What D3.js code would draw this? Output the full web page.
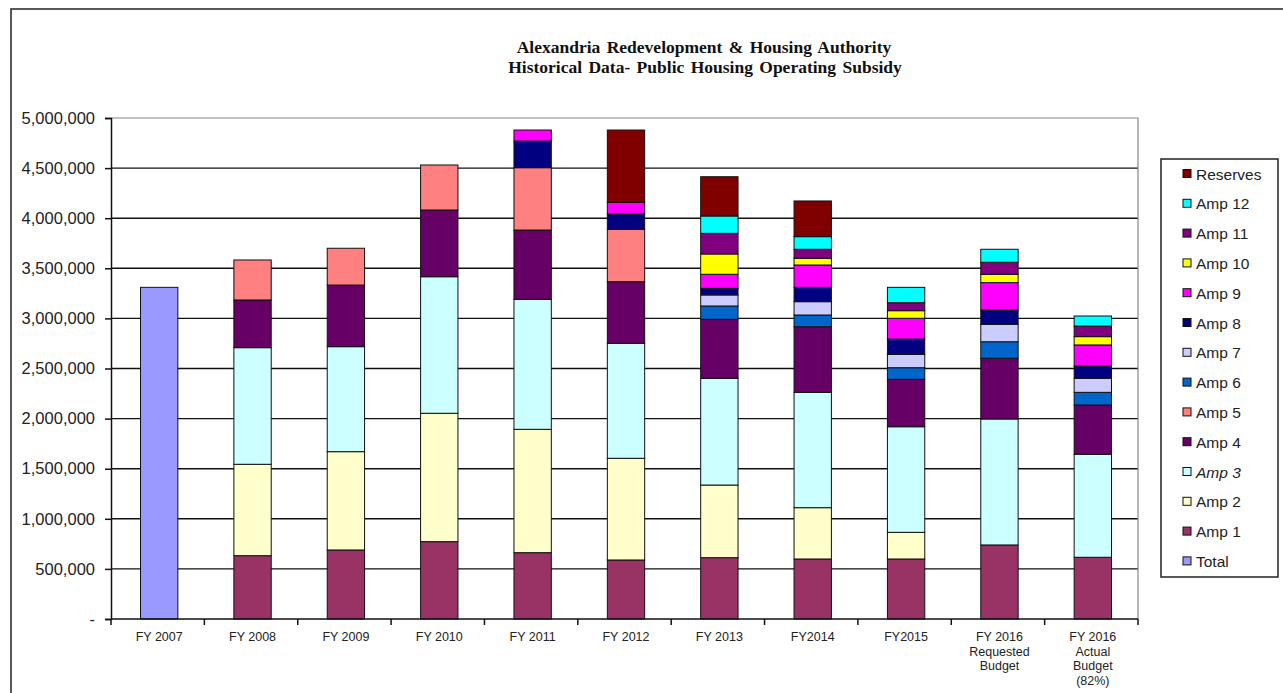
<!DOCTYPE html>
<html>
<head>
<meta charset="utf-8">
<script src="https://cdn.jsdelivr.net/npm/d3@7"></script>
<style>
  body { margin: 0; background: #fff; }
  svg { display: block; font-family: "Liberation Sans", Arial, sans-serif; }
</style>
</head>
<body>
<svg id="chart" width="1283" height="693"></svg>
<script>
// categories (x axis)
const categories = ["FY 2007","FY 2008","FY 2009","FY 2010","FY 2011","FY 2012","FY 2013","FY2014","FY2015","FY 2016 Requested","FY 2016 Actual"];
const categoryLines = [["FY 2007"],["FY 2008"],["FY 2009"],["FY 2010"],["FY 2011"],["FY 2012"],["FY 2013"],["FY2014"],["FY2015"],["FY 2016","Requested","Budget"],["FY 2016","Actual","Budget","(82%)"]];

// series, bottom of the stack first
const total    = [3310000,0,0,0,0,0,0,0,0,0,0];
const amp1     = [0,632000,689000,772000,662000,589000,612000,599000,599000,739000,616000];
const amp2     = [0,912000,981000,1281000,1231000,1015000,725000,512000,266000,0,0];
const amp3     = [0,1164000,1048000,1363000,1297000,1147000,1065000,1151000,1054000,1257000,1028000];
const amp4     = [0,476000,615000,666000,692000,615000,589000,655000,473000,606000,492000];
const amp5     = [0,399000,367000,449000,622000,523000,0,0,0,0,0];
const amp6     = [0,0,0,0,0,0,133000,117000,116000,165000,126000];
const amp7     = [0,0,0,0,0,0,110000,133000,133000,174000,140000];
const amp8     = [0,0,0,0,266000,153000,66000,143000,153000,143000,123000];
const amp9     = [0,0,0,0,110000,116000,140000,223000,207000,273000,210000];
const amp10    = [0,0,0,0,0,0,203000,67000,76000,83000,83000];
const amp11    = [0,0,0,0,0,0,206000,90000,80000,120000,106000];
const amp12    = [0,0,0,0,0,0,173000,126000,153000,130000,100000];
const reserves = [0,0,0,0,0,722000,392000,356000,0,0,0];

const seriesNames = ["Total","Amp 1","Amp 2","Amp 3","Amp 4","Amp 5","Amp 6","Amp 7","Amp 8","Amp 9","Amp 10","Amp 11","Amp 12","Reserves"];
const seriesValues = [total,amp1,amp2,amp3,amp4,amp5,amp6,amp7,amp8,amp9,amp10,amp11,amp12,reserves];
const seriesColors = ["#9999ff","#993366","#ffffcc","#ccffff","#660066","#ff8080","#0066cc","#ccccff","#000080","#ff00ff","#ffff00","#800080","#00ffff","#800000"];

const yTicks = [0,500000,1000000,1500000,2000000,2500000,3000000,3500000,4000000,4500000,5000000];

const svg = d3.select("#chart");

// outer chart border
svg.append("rect")
    .attr("x", 11).attr("y", 9)
    .attr("width", 1300).attr("height", 720)
    .attr("fill", "none")
    .attr("stroke", "#222")
    .attr("stroke-width", 1.5);

// title
const title = svg.append("text")
    .attr("text-anchor", "middle")
    .style("font-family", "'Liberation Serif', 'Times New Roman', serif")
    .style("font-weight", "bold")
    .style("font-size", "17.5px")
    .style("word-spacing", "2px")
    .attr("fill", "#111");
title.append("tspan").attr("x", 704).attr("y", 53).text("Alexandria Redevelopment & Housing Authority");
title.append("tspan").attr("x", 705).attr("y", 73).text("Historical Data- Public Housing Operating Subsidy");

const plotLeft = 111, plotRight = 1138, plotTop = 118, plotBottom = 619;

const x = d3.scaleBand()
    .domain(categories)
    .range([plotLeft, plotRight])
    .padding(0);

const y = d3.scaleLinear()
    .domain([0, 5000000])
    .range([plotBottom, plotTop]);

const barWidth = x.bandwidth() * 0.4;

// gridlines
svg.append("g")
    .selectAll("line")
    .data(yTicks.filter(d => d > 0 && d < 5000000))
    .enter()
    .append("line")
    .attr("x1", plotLeft).attr("x2", plotRight)
    .attr("y1", d => y(d)).attr("y2", d => y(d))
    .attr("stroke", "#111")
    .attr("stroke-width", 1.4);

// plot frame top/right
svg.append("path")
    .attr("d", `M${plotLeft},${y(5000000)}H${plotRight}V${plotBottom}`)
    .attr("fill", "none")
    .attr("stroke", "#888")
    .attr("stroke-width", 1.2);

// stacked bars
const table = categories.map((c, i) => {
    const row = {category: c};
    seriesNames.forEach((s, j) => row[s] = seriesValues[j][i]);
    return row;
});

const stacked = d3.stack().keys(seriesNames)(table);
const color = d3.scaleOrdinal().domain(seriesNames).range(seriesColors);

svg.append("g")
    .selectAll("g")
    .data(stacked)
    .enter()
    .append("g")
    .attr("fill", d => color(d.key))
    .selectAll("rect")
    .data(d => d.filter(p => p[1] - p[0] > 0))
    .enter()
    .append("rect")
    .attr("x", d => x(d.data.category) + (x.bandwidth() - barWidth) / 2 + 1.5)
    .attr("width", barWidth)
    .attr("y", d => y(d[1]))
    .attr("height", d => y(d[0]) - y(d[1]))
    .attr("stroke", "#111")
    .attr("stroke-width", 1);

// y axis
const yAxis = svg.append("g")
    .attr("transform", `translate(${plotLeft},0)`)
    .call(d3.axisLeft(y)
        .tickValues(yTicks)
        .tickSize(6)
        .tickPadding(10)
        .tickFormat(d => d === 0 ? "-" : d3.format(",")(d)));
yAxis.select(".domain").attr("stroke", "#111").attr("stroke-width", 1.5);
yAxis.selectAll(".tick line").attr("stroke", "#111").attr("stroke-width", 1.5);
yAxis.selectAll("text")
    .style("font-size", "16.5px")
    .attr("fill", "#222");

// x axis
svg.append("line")
    .attr("x1", plotLeft).attr("x2", plotRight)
    .attr("y1", plotBottom).attr("y2", plotBottom)
    .attr("stroke", "#111")
    .attr("stroke-width", 1.5);

svg.append("g")
    .selectAll("line")
    .data(categories.concat([null]))
    .enter()
    .append("line")
    .attr("x1", d => d === null ? plotRight : x(d))
    .attr("x2", d => d === null ? plotRight : x(d))
    .attr("y1", plotBottom).attr("y2", plotBottom + 6)
    .attr("stroke", "#111")
    .attr("stroke-width", 1.5);

const xLabels = svg.append("g")
    .selectAll("text")
    .data(categories)
    .enter()
    .append("text")
    .attr("text-anchor", "middle")
    .style("font-size", "12.5px")
    .attr("fill", "#222");

xLabels.selectAll("tspan")
    .data((d, i) => categoryLines[i].map(line => ({line, c: d})))
    .enter()
    .append("tspan")
    .attr("x", d => x(d.c) + x.bandwidth() / 2 + 1.5)
    .attr("y", (d, i) => 641 + i * 14.5)
    .text(d => d.line);

// legend
const legend = svg.append("g").attr("transform", "translate(1161,159)");

legend.append("rect")
    .attr("width", 117).attr("height", 418)
    .attr("fill", "#fff")
    .attr("stroke", "#222")
    .attr("stroke-width", 1.5);

const legendItems = legend.selectAll("g.item")
    .data(seriesNames.slice().reverse())
    .enter()
    .append("g")
    .attr("class", "item")
    .attr("transform", (d, i) => `translate(22,${15 + i * 29.8})`);

legendItems.append("rect")
    .attr("x", 0).attr("y", -4.5)
    .attr("width", 8).attr("height", 8)
    .attr("fill", d => color(d))
    .attr("stroke", "#111")
    .attr("stroke-width", 1);

legendItems.append("text")
    .attr("x", 13).attr("y", 5.5)
    .style("font-size", "15.5px")
    .style("font-style", d => d === "Amp 3" ? "italic" : "normal")
    .attr("fill", "#222")
    .text(d => d);
</script>
</body>
</html>
